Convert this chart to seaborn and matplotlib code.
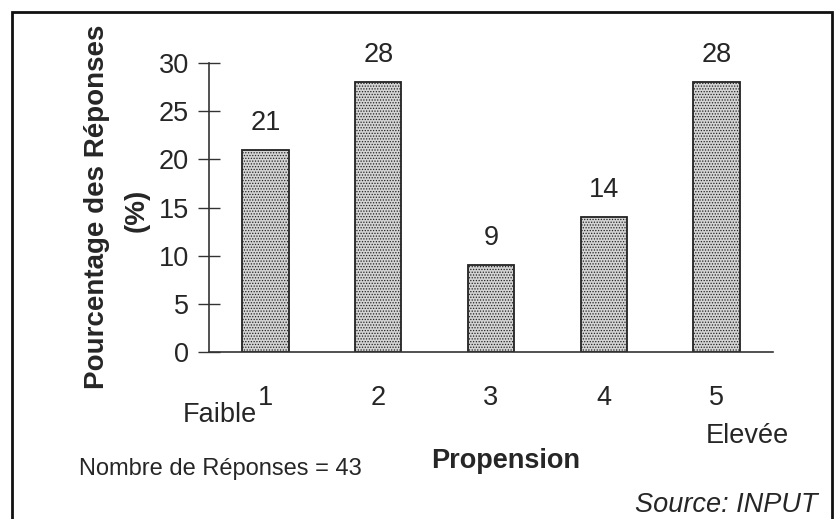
import numpy as np
import pandas as pd
import matplotlib
matplotlib.use("Agg")
import matplotlib.pyplot as plt
import seaborn as sns
from matplotlib.patches import Rectangle

categories = ["1", "2", "3", "4", "5"]
values = [21, 28, 9, 14, 28]
y_ticks = [0, 5, 10, 15, 20, 25, 30]

sns.set_theme(style="white")
plt.rcParams["font.family"] = ["Liberation Sans", "DejaVu Sans"]
plt.rcParams["hatch.color"] = "#6a6a6a"
plt.rcParams["hatch.linewidth"] = 0.6

W, H = 840, 519
fig = plt.figure(figsize=(W / 100, H / 100), dpi=100)
fig.patch.set_facecolor("white")

def px(x, y):
    return x / W, 1 - y / H

FS = 19.5

ax = fig.add_axes([209 / W, 1 - 352 / H, (773 - 209) / W, (352 - 63) / H])
df = pd.DataFrame({"cat": categories, "val": values})
sns.barplot(data=df, x="cat", y="val", ax=ax, width=0.41, color="#d4d4d4",
            edgecolor="#222222", linewidth=1.3, saturation=1)
for p in ax.patches:
    p.set_hatch("......")
ax.set_xlim(-0.5, 4.5)
ax.set_ylim(0, 30)
ax.set_yticks(y_ticks)
ax.set_yticklabels([str(t) for t in y_ticks], fontsize=FS)
ax.set_xticks(range(len(categories)))
ax.set_xticklabels(categories, fontsize=FS)
ax.set_xticks(np.arange(-0.5, len(categories)), minor=True)
ax.tick_params(axis="x", which="major", length=0, pad=24)
ax.tick_params(axis="x", which="minor", direction="inout", length=12, width=1, color="#333333")
ax.tick_params(axis="y", which="major", direction="inout", length=16, width=1, pad=6.5, color="#333333")
ax.tick_params(axis="y", left=True)
ax.set_xlabel("")
ax.set_ylabel("")
for s in ["top", "right"]:
    ax.spines[s].set_visible(False)
for s in ["left", "bottom"]:
    ax.spines[s].set_color("#333333")
    ax.spines[s].set_linewidth(1.2)
ax.set_facecolor("white")

for c in ax.containers:
    ax.bar_label(c, labels=[str(v) for v in values], padding=10, fontsize=FS)

fig.text(*px(97, 207), "Pourcentage des Réponses", rotation=90, ha="center", va="center",
         fontsize=20, fontweight="bold")
fig.text(*px(137, 210), "(%)", rotation=90, ha="center", va="center",
         fontsize=20, fontweight="bold")
fig.text(*px(220, 415), "Faible", ha="center", va="center", fontsize=FS)
fig.text(*px(747, 436), "Elevée", ha="center", va="center", fontsize=FS)
fig.text(*px(506, 468), "Propension", ha="center", va="baseline", fontsize=FS, fontweight="bold")
fig.text(*px(79, 475), "Nombre de Réponses = 43", ha="left", va="baseline", fontsize=17)
fig.text(*px(818, 512), "Source: INPUT", ha="right", va="baseline", fontsize=FS, style="italic")

fig.patches.append(Rectangle(px(12, 560), (832 - 12) / W, (560 - 12) / H,
                             transform=fig.transFigure, fill=False,
                             edgecolor="#111111", linewidth=2))

fig.savefig("out.png", dpi=100, facecolor="white")
